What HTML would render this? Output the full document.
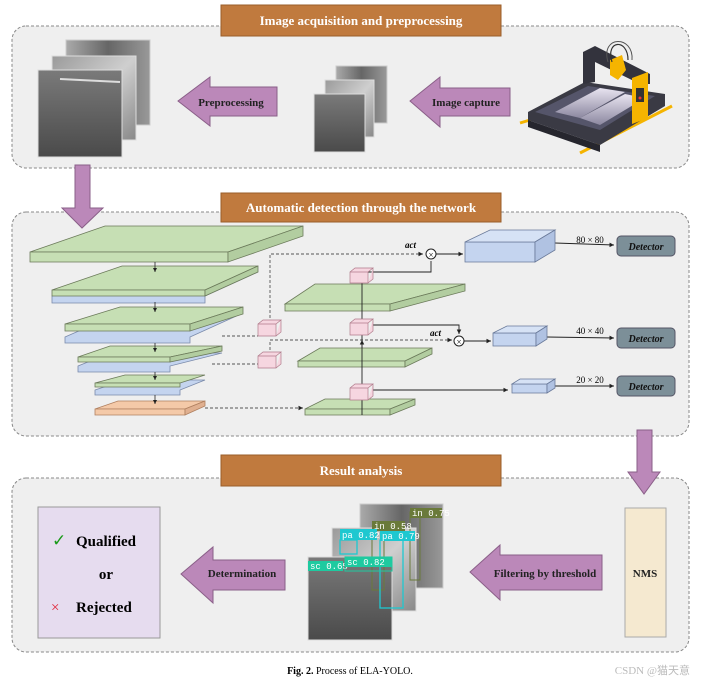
<!DOCTYPE html>
<html><head><meta charset="utf-8"><style>
html,body{margin:0;padding:0;background:#fff}
svg{display:block}
text{font-family:"Liberation Serif",serif}
.t{fill:#fff;font-weight:bold;font-size:13px}
.b{font-weight:bold;font-size:11px;fill:#222}
.m{font-family:"Liberation Mono",monospace;font-size:9px;fill:#fff}
</style></head><body>
<svg width="703" height="685" viewBox="0 0 703 685" xmlns="http://www.w3.org/2000/svg">
<defs>
<linearGradient id="g1" x1="0" y1="0" x2="0" y2="1"><stop offset="0" stop-color="#7a7a7a"/><stop offset="1" stop-color="#4a4a4a"/></linearGradient>
<linearGradient id="g2" x1="0" y1="0" x2="1" y2="1"><stop offset="0" stop-color="#9a9a9a"/><stop offset="0.5" stop-color="#cfcfcf"/><stop offset="1" stop-color="#888"/></linearGradient>
<linearGradient id="g3" x1="0" y1="0" x2="1" y2="0"><stop offset="0" stop-color="#aaa"/><stop offset="0.5" stop-color="#666"/><stop offset="1" stop-color="#999"/></linearGradient>
<linearGradient id="rol" x1="0" y1="0" x2="0" y2="1"><stop offset="0" stop-color="#e8e4f0"/><stop offset="1" stop-color="#8c88a0"/></linearGradient>
<marker id="ar" markerWidth="6" markerHeight="6" refX="5" refY="3" orient="auto"><path d="M0,0.5 L5,3 L0,5.5Z" fill="#222"/></marker>
</defs>

<!-- Panels -->
<rect x="12" y="26" width="677" height="142" rx="14" fill="#efefef" stroke="#888" stroke-dasharray="3,2"/>
<rect x="12" y="212" width="677" height="224" rx="14" fill="#efefef" stroke="#888" stroke-dasharray="3,2"/>
<rect x="12" y="478" width="677" height="174" rx="14" fill="#efefef" stroke="#888" stroke-dasharray="3,2"/>

<rect x="221" y="5" width="280" height="31" fill="#c07a3e" stroke="#9a5e2a"/>
<text class="t" x="361" y="25" text-anchor="middle">Image acquisition and preprocessing</text>
<rect x="221" y="193" width="280" height="29" fill="#c07a3e" stroke="#9a5e2a"/>
<text class="t" x="361" y="212" text-anchor="middle">Automatic detection through the network</text>
<rect x="221" y="455" width="280" height="31" fill="#c07a3e" stroke="#9a5e2a"/>
<text class="t" x="361" y="475" text-anchor="middle">Result analysis</text>

<!-- big down arrows -->
<path d="M75,165 H90 V208 H103 L82,228 L62,208 H75Z" fill="#bb88b9" stroke="#8a5f88"/>
<path d="M637,430 H652 V472 H660 L644,494 L628,472 H637Z" fill="#bb88b9" stroke="#8a5f88"/>

<!-- Panel 1 images -->
<rect x="66" y="40" width="84" height="85" fill="url(#g3)" stroke="#ccc"/>
<rect x="52" y="56" width="84" height="84" fill="url(#g2)" stroke="#ddd"/>
<rect x="38" y="70" width="84" height="87" fill="url(#g1)" stroke="#ddd"/>
<line x1="60" y1="79" x2="120" y2="82" stroke="#ddd" stroke-width="2"/>
<path d="M277,87 V116 H210 V126 L178,101 L210,77 V87Z" fill="#bb88b9" stroke="#8a5f88"/>
<text class="b" x="231" y="106" text-anchor="middle">Preprocessing</text>

<rect x="336" y="66" width="51" height="57" fill="url(#g3)" stroke="#ccc"/>
<rect x="325" y="80" width="49" height="57" fill="url(#g2)" stroke="#ddd"/>
<rect x="314" y="94" width="51" height="58" fill="url(#g1)" stroke="#ddd"/>
<path d="M510,88 V116 H440 V127 L410,101 L440,77 V88Z" fill="#bb88b9" stroke="#8a5f88"/>
<text class="b" x="466" y="106" text-anchor="middle">Image capture</text>

<!-- machine -->
<line x1="520" y1="123" x2="540" y2="117" stroke="#f5b400" stroke-width="3"/>
<line x1="580" y1="153" x2="672" y2="106" stroke="#f5b400" stroke-width="3"/>
<path d="M528,112 L585,82 L665,94 L665,106 L600,145 L528,120Z" fill="#3a3a44"/>
<path d="M535,112 L588,86 L655,96 L600,130Z" fill="#55556a"/>
<path d="M555,112 L600,88 L625,92 L580,118Z" fill="url(#rol)"/>
<path d="M580,118 L625,94 L645,98 L600,125Z" fill="url(#rol)"/>
<path d="M528,120 L600,145 L600,152 L528,127Z" fill="#26262e"/>
<path d="M583,52 L595,46 L650,74 L650,84 L640,84 L595,62 L595,82 L583,84Z" fill="#33333d"/>
<path d="M610,60 L622,55 L626,70 L618,80 L610,75Z" fill="#f5b400"/>
<path d="M632,78 L648,72 L648,118 L632,124Z" fill="#f5b400"/>
<rect x="636" y="88" width="8" height="14" fill="#333"/>
<circle cx="640" cy="98" r="1.5" fill="#e33"/>
<path d="M612,62 C605,40 628,38 628,60" fill="none" stroke="#333" stroke-width="1.2"/>
<path d="M608,62 C600,35 634,35 632,60" fill="none" stroke="#555" stroke-width="1"/>

<!-- Panel 2 layers -->
<g stroke="#6b7a5a" stroke-width="0.8">
<!-- L1 -->
<path d="M30,252 L105,226 L303,226 L228,252Z" fill="#c6dfb4"/>
<path d="M30,252 H228 V262 H30Z" fill="#c6dfb4"/><path d="M228,252 L303,226 V236 L228,262Z" fill="#b2cda0"/>
<!-- L2 blue -->
<path d="M52,296 L122,272 L258,272 L205,296 V303 H52Z" fill="#c4d4ef" stroke="#7a8aaa"/>
<path d="M52,290 L122,266 L258,266 L205,290Z" fill="#c6dfb4"/>
<path d="M52,290 H205 V296 H52Z" fill="#c6dfb4"/><path d="M205,290 L258,266 V272 L205,296Z" fill="#b2cda0"/>
<!-- L3 -->
<path d="M65,337 L120,313 L243,313 L190,337 V343 H65Z" fill="#c4d4ef" stroke="#7a8aaa"/>
<path d="M65,324 L120,307 L243,307 L190,324Z" fill="#c6dfb4"/>
<path d="M65,324 H190 V331 H65Z" fill="#c6dfb4"/><path d="M190,324 L243,307 V314 L190,331Z" fill="#b2cda0"/>
<!-- L4 -->
<path d="M78,366 L110,353 L222,353 L170,366 V372 H78Z" fill="#c4d4ef" stroke="#7a8aaa"/>
<path d="M78,357 L110,346 L222,346 L170,357Z" fill="#c6dfb4"/>
<path d="M78,357 H170 V362 H78Z" fill="#c6dfb4"/><path d="M170,357 L222,346 V351 L170,362Z" fill="#b2cda0"/>
<!-- L5 -->
<path d="M95,390 L125,380 L205,380 L180,390 V395 H95Z" fill="#c4d4ef" stroke="#7a8aaa"/>
<path d="M95,383 L125,375 L205,375 L180,383Z" fill="#c6dfb4"/>
<path d="M95,383 H180 V387 H95Z" fill="#c6dfb4"/>
<!-- orange -->
<path d="M95,409 L118,401 L205,401 L185,409Z" fill="#f4c9a8" stroke="#b08060"/>
<path d="M95,409 H185 V415 H95Z" fill="#f4c9a8" stroke="#b08060"/><path d="M185,409 L205,401 V406 L185,415Z" fill="#e0b090" stroke="#b08060"/>
<!-- middle layers -->
<path d="M285,304 L315,284 L465,284 L390,304Z" fill="#c6dfb4"/>
<path d="M285,304 H390 V311 H285Z" fill="#c6dfb4"/><path d="M390,304 L465,284 V291 L390,311Z" fill="#b2cda0"/>
<path d="M298,361 L320,348 L432,348 L405,361Z" fill="#c6dfb4"/>
<path d="M298,361 H405 V367 H298Z" fill="#c6dfb4"/><path d="M405,361 L432,348 V354 L405,367Z" fill="#b2cda0"/>
<path d="M305,409 L325,399 L415,399 L390,409Z" fill="#c6dfb4"/>
<path d="M305,409 H390 V415 H305Z" fill="#c6dfb4"/><path d="M390,409 L415,399 V405 L390,415Z" fill="#b2cda0"/>
</g>
<g stroke="#222" stroke-width="0.8" marker-end="url(#ar)">
<line x1="155" y1="262" x2="155" y2="272"/><line x1="155" y1="302" x2="155" y2="312"/>
<line x1="155" y1="343" x2="155" y2="352"/><line x1="155" y1="372" x2="155" y2="380"/>
<line x1="155" y1="395" x2="155" y2="404"/>
</g>

<!-- connectors -->
<g fill="none" stroke="#555" stroke-width="0.9" stroke-dasharray="3,2">
<path d="M222,336 H258"/><path d="M212,364 H258"/>
<path d="M270,318 V254 H423" marker-end="url(#ar)"/>
<path d="M270,350 V340 H452" marker-end="url(#ar)"/>
<path d="M205,408 H303" marker-end="url(#ar)"/>
</g>
<g fill="none" stroke="#222" stroke-width="0.9">
<line x1="362" y1="415" x2="362" y2="280"/>
<line x1="362" y1="348" x2="362" y2="340" marker-end="url(#ar)"/>
<line x1="362" y1="396" x2="362" y2="390" marker-end="url(#ar)"/>
<path d="M368,272 H431 V261"/>
<path d="M372,325 H459 V334" marker-end="url(#ar)"/>
<path d="M372,390 H508" marker-end="url(#ar)"/>
<line x1="436" y1="254" x2="463" y2="254" marker-end="url(#ar)"/>
<line x1="464" y1="341" x2="491" y2="341" marker-end="url(#ar)"/>
<line x1="555" y1="243" x2="614" y2="245" marker-end="url(#ar)"/>
<line x1="547" y1="337" x2="614" y2="338" marker-end="url(#ar)"/>
<line x1="555" y1="386" x2="614" y2="386" marker-end="url(#ar)"/>
</g>
<circle cx="431" cy="254" r="5" fill="#fff" stroke="#222"/><text x="431" y="258" font-size="9" text-anchor="middle">×</text>
<circle cx="459" cy="341" r="5" fill="#fff" stroke="#222"/><text x="459" y="345" font-size="9" text-anchor="middle">×</text>
<text x="405" y="248" font-size="9" font-weight="bold" font-style="italic">act</text>
<text x="430" y="336" font-size="9" font-weight="bold" font-style="italic">act</text>

<!-- pink cubes -->
<g fill="#f6d6e0" stroke="#b07a8a" stroke-width="0.7">
<path d="M258,324 H276 V336 H258Z M258,324 L263,320 H281 L276,324 M276,336 L281,332 V320"/>
<path d="M258,356 H276 V368 H258Z M258,356 L263,352 H281 L276,356 M276,368 L281,364 V352"/>
<path d="M350,272 H368 V283 H350Z M350,272 L355,268 H373 L368,272 M368,283 L373,279 V268"/>
<path d="M350,323 H368 V335 H350Z M350,323 L355,319 H373 L368,323 M368,335 L373,331 V319"/>
<path d="M350,388 H368 V400 H350Z M350,388 L355,384 H373 L368,388 M368,400 L373,396 V384"/>
</g>
<!-- blue boxes -->
<g fill="#c4d4ef" stroke="#6a7a9a" stroke-width="0.8">
<path d="M465,242 H535 V262 H465Z"/><path d="M465,242 L490,230 H555 L535,242Z" fill="#d6e2f5"/><path d="M535,242 L555,230 V250 L535,262Z" fill="#b0c2e2"/>
<path d="M493,333 H536 V346 H493Z"/><path d="M493,333 L507,326 H547 L536,333Z" fill="#d6e2f5"/><path d="M536,333 L547,326 V339 L536,346Z" fill="#b0c2e2"/>
<path d="M512,384 H547 V393 H512Z"/><path d="M512,384 L520,379 H555 L547,384Z" fill="#d6e2f5"/><path d="M547,384 L555,379 V388 L547,393Z" fill="#b0c2e2"/>
</g>
<text x="590" y="243" font-size="9" text-anchor="middle">80 × 80</text>
<text x="590" y="334" font-size="9" text-anchor="middle">40 × 40</text>
<text x="590" y="383" font-size="9" text-anchor="middle">20 × 20</text>
<g fill="#7c8f98" stroke="#556">
<rect x="617" y="236" width="58" height="20" rx="4"/><rect x="617" y="328" width="58" height="20" rx="4"/><rect x="617" y="376" width="58" height="20" rx="4"/>
</g>
<g font-size="10" font-weight="bold" font-style="italic" text-anchor="middle" fill="#111">
<text x="646" y="250">Detector</text><text x="646" y="342">Detector</text><text x="646" y="390">Detector</text>
</g>

<!-- Panel 3 -->
<rect x="38" y="507" width="122" height="131" fill="#e6dcef" stroke="#999"/>
<text x="52" y="546" font-size="17" fill="#1a9a1a">✓</text>
<text x="76" y="546" font-size="15" font-weight="bold">Qualified</text>
<text x="106" y="579" font-size="15" font-weight="bold" text-anchor="middle">or</text>
<text x="51" y="612" font-size="15" fill="#e0263a">×</text>
<text x="76" y="612" font-size="15" font-weight="bold">Rejected</text>
<path d="M285,560 V590 H213 V603 L181,574 L213,547 V560Z" fill="#bb88b9" stroke="#8a5f88"/>
<text class="b" x="242" y="577" text-anchor="middle">Determination</text>

<rect x="360" y="504" width="83" height="84" fill="url(#g3)" stroke="#ccc"/>
<rect x="332" y="528" width="84" height="83" fill="url(#g2)" stroke="#ddd"/>
<rect x="308" y="557" width="84" height="83" fill="url(#g1)" stroke="#ddd"/>
<rect x="410" y="512" width="10" height="68" fill="none" stroke="#6a7a3a"/>
<rect x="372" y="530" width="12" height="60" fill="none" stroke="#6a7a3a"/>
<rect x="340" y="540" width="17" height="14" fill="none" stroke="#1ec8d0" stroke-width="1.3"/>
<rect x="380" y="540" width="23" height="68" fill="none" stroke="#1ec8d0" stroke-width="1.3"/>
<rect x="410" y="508" width="32" height="10" fill="#6a7a3a"/><text class="m" x="412" y="516">in 0.75</text>
<rect x="372" y="521" width="33" height="10" fill="#6a7a3a"/><text class="m" x="374" y="529">in 0.58</text>
<rect x="340" y="529" width="37" height="11" fill="#1ec8d0"/><text class="m" x="342" y="538">pa 0.82</text>
<rect x="380" y="531" width="35" height="10" fill="#1ec8d0"/><text class="m" x="382" y="539">pa 0.79</text>
<rect x="308" y="561" width="35" height="10" fill="#1ecaa0"/><text class="m" x="310" y="569">sc 0.65</text>
<rect x="345" y="557" width="47" height="10" fill="#1ecaa0"/><text class="m" x="347" y="565">sc 0.82</text>
<rect x="345" y="557" width="47" height="14" fill="none" stroke="#1ecaa0"/>

<path d="M602,555 V590 H500 V600 L470,572 L500,545 V555Z" fill="#bb88b9" stroke="#8a5f88"/>
<text class="b" x="545" y="577" text-anchor="middle">Filtering by threshold</text>
<rect x="625" y="508" width="41" height="129" fill="#f5e9d0" stroke="#aaa"/>
<text class="b" x="645" y="577" text-anchor="middle">NMS</text>

<text x="350" y="674" font-size="10" text-anchor="middle"><tspan font-weight="bold">Fig. 2.</tspan> Process of ELA-YOLO.</text>
<text x="690" y="674" font-size="11" fill="#bbb" text-anchor="end" font-family="'Liberation Sans','Noto Sans CJK SC',sans-serif">CSDN @猫天意</text>
</svg>
</body></html>
